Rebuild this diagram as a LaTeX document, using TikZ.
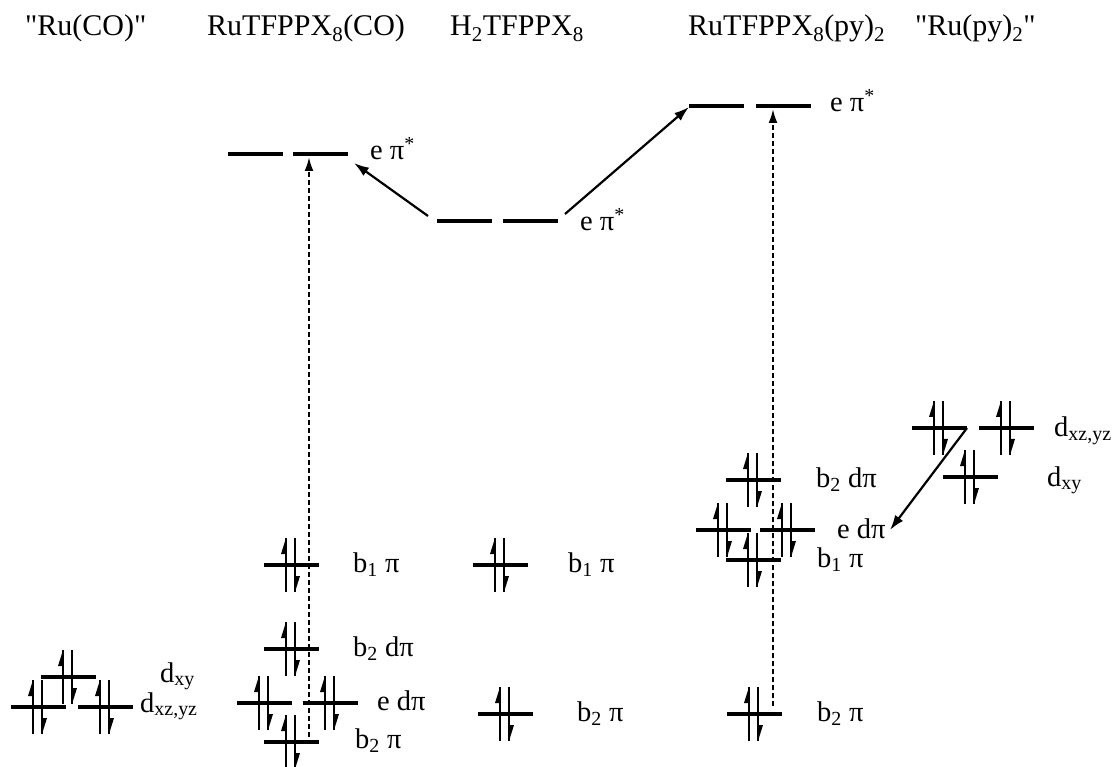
\documentclass[tikz,border=0pt]{standalone}
\usepackage{fontspec}
\setmainfont{Liberation Serif}[Ligatures=TeXOff]
\usetikzlibrary{arrows.meta,calc}
\tikzset{
  level/.style={line width=4.5pt},
  elec/.style={line width=2.2pt},
  conn/.style={line width=2.2pt,-{Latex[length=15pt,width=10pt]}},
  trans/.style={line width=2.3pt,dash pattern=on 5pt off 3pt,-{Latex[length=14pt,width=9pt]}},
  lab/.style={anchor=base west,inner sep=0pt,font=\fontsize{28.5}{32}\selectfont},
  ttl/.style={anchor=base west,inner sep=0pt,font=\fontsize{30}{34}\selectfont},
}
\newcommand{\orb}[3]{%
  \draw[level] (#2,#3) coordinate (#1w) -- ++(55,0) coordinate (#1e);
  \path (#2,#3) ++(27,0) coordinate (#1c);
  \draw[elec] (#1c) ++(-5,27) -- ++(0,-54);
  \fill (#1c) ++(-5,-27) -- ++(-5,16) -- ++(5,0) -- cycle;
  \draw[elec] (#1c) ++(4,-27) -- ++(0,54);
  \fill (#1c) ++(4,27) -- ++(5,-16) -- ++(-5,0) -- cycle;
}
\newcommand{\emp}[3]{\draw[level] (#2,#3) coordinate (#1w) -- ++(55,0) coordinate (#1e);}
\begin{document}
\begin{tikzpicture}[x=1pt,y=-1pt]
\useasboundingbox (0,0) rectangle (1120,767);
% column titles
\node[ttl] (tRuCO) at (25,36) {"Ru(CO)"};
\node[ttl] (tCO) at (207,36) {RuTFPPX\textsubscript{8}(CO)};
\node[ttl] (tH2) at (450,36) {H\textsubscript{2}TFPPX\textsubscript{8}};
\node[ttl] (tPy) at (688,36) {RuTFPPX\textsubscript{8}(py)\textsubscript{2}};
\node[ttl] (tRuPy) at (915,36) {"Ru(py)\textsubscript{2}"};
% "Ru(CO)"
\orb{rcDxzA}{11}{707}
\orb{rcDxzB}{78}{707}
\orb{rcDxy}{41}{677}
\node[lab] (lrcDxy) at (160,682) {d\textsubscript{xy}};
\node[lab] (lrcDxz) at (140,712) {d\textsubscript{xz,yz}};
% RuTFPPX8(CO)
\emp{coPiA}{228}{154}
\emp{coPiB}{293}{154}
\node[lab] (lcoPi) at (370,160) {e π\textsuperscript{*}};
\orb{coB1}{264}{565}
\node[lab] (lcoB1) at (353,572) {b\textsubscript{1} π};
\orb{coB2d}{264}{649}
\node[lab] (lcoB2d) at (353,656) {b\textsubscript{2} dπ};
\orb{coEdA}{237}{703}
\orb{coEdB}{303}{703}
\node[lab] (lcoEd) at (377,710) {e dπ};
\orb{coB2}{264}{742}
\node[lab] (lcoB2) at (355,748) {b\textsubscript{2} π};
% H2TFPPX8
\emp{hPiA}{437}{221}
\emp{hPiB}{503}{221}
\node[lab] (lhPi) at (580,231) {e π\textsuperscript{*}};
\orb{hB1}{473}{565}
\node[lab] (lhB1) at (568,572) {b\textsubscript{1} π};
\orb{hB2}{478}{714}
\node[lab] (lhB2) at (577,721) {b\textsubscript{2} π};
% RuTFPPX8(py)2
\emp{pPiA}{689}{106}
\emp{pPiB}{756}{106}
\node[lab] (lpPi) at (830,112) {e π\textsuperscript{*}};
\orb{pB2d}{726}{480}
\node[lab] (lpB2d) at (816,487) {b\textsubscript{2} dπ};
\orb{pEdA}{696}{530}
\orb{pEdB}{760}{530}
\node[lab] (lpEd) at (837,538) {e dπ};
\orb{pB1}{726}{560}
\node[lab] (lpB1) at (817,567) {b\textsubscript{1} π};
\orb{pB2}{727}{714}
\node[lab] (lpB2) at (817,721) {b\textsubscript{2} π};
% "Ru(py)2"
\orb{rpDxzA}{912}{428}
\orb{rpDxzB}{979}{428}
\orb{rpDxy}{943}{477}
\node[lab] (lrpDxz) at (1054,437) {d\textsubscript{xz,yz}};
\node[lab] (lrpDxy) at (1047,486) {d\textsubscript{xy}};
% connectors
\coordinate (a1s) at ($(hPiAw)+(-9,-5)$);
\coordinate (a1e) at ($(coPiBe)+(6,9)$);
\draw[conn] (a1s) -- (a1e);
\coordinate (a2s) at ($(hPiBe)+(7,-7)$);
\coordinate (a2e) at ($(pPiAw)+(0,1)$);
\draw[conn] (a2s) -- (a2e);
\coordinate (a3e) at ($(pEdBe)+(75,0)$);
\draw[conn] (rpDxzAe) -- (a3e);
\coordinate (d1s) at ($(coB2w)+(45,-5)$);
\coordinate (d1e) at ($(coPiBw)+(16,3)$);
\draw[trans] (d1s) -- (d1e);
\coordinate (d2s) at ($(pB2w)+(46,-8)$);
\coordinate (d2e) at ($(pPiBw)+(17,3)$);
\draw[trans] (d2s) -- (d2e);
\end{tikzpicture}
\end{document}
